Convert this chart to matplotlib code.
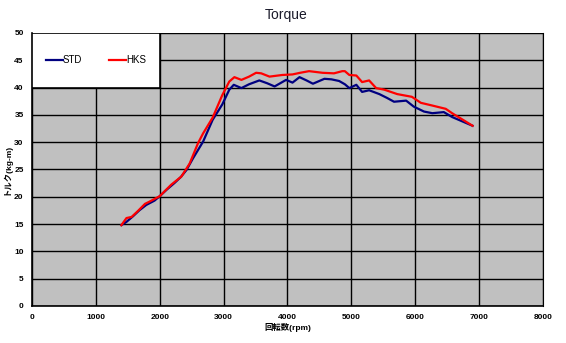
import matplotlib
matplotlib.use("Agg")
import matplotlib.pyplot as plt
from matplotlib.patches import Rectangle

plt.rcParams['font.family'] = ['Liberation Sans', 'Noto Sans CJK JP', 'DejaVu Sans']

# STD curve (rpm, kg-m)
std_rpm = [1400, 1480, 1580, 1680, 1790, 1920, 2000, 2110, 2230, 2330, 2420, 2520, 2680,
           2830, 2980, 3090, 3160, 3280, 3400, 3560, 3680, 3800, 3980, 4080, 4190, 4300,
           4400, 4580, 4690, 4810, 4900, 4970, 5080, 5170, 5280, 5440, 5560, 5670, 5860,
           5980, 6140, 6270, 6450, 6580, 6700, 6900]
std_trq = [14.8, 15.4, 16.4, 17.5, 18.5, 19.3, 20.1, 21.3, 22.5, 23.6, 24.9, 27.0, 30.1,
           34.1, 36.9, 39.6, 40.5, 39.9, 40.6, 41.3, 40.8, 40.2, 41.4, 40.9, 41.9, 41.3,
           40.7, 41.6, 41.5, 41.2, 40.6, 39.9, 40.5, 39.2, 39.5, 38.8, 38.1, 37.4, 37.6,
           36.5, 35.6, 35.3, 35.5, 34.6, 34.0, 33.0]

# HKS curve (rpm, kg-m)
hks_rpm = [1400, 1480, 1560, 1660, 1770, 1840, 2000, 2180, 2340, 2470, 2600, 2680, 2830,
           2980, 3090, 3170, 3280, 3400, 3510, 3590, 3720, 3920, 4080, 4200, 4340,
           4550, 4730, 4860, 4900, 4970, 5080, 5170, 5280, 5390, 5520, 5720, 5950, 6090,
           6270, 6480, 6580, 6720, 6900]
hks_trq = [14.8, 16.1, 16.3, 17.4, 18.7, 19.1, 20.1, 22.2, 23.7, 26.1, 29.8, 31.6, 34.5,
           38.6, 41.1, 41.9, 41.4, 42.0, 42.7, 42.6, 42.0, 42.3, 42.4, 42.7, 43.0,
           42.7, 42.6, 43.0, 43.0, 42.3, 42.2, 41.0, 41.3, 39.9, 39.6, 38.8, 38.3, 37.2,
           36.7, 36.1, 35.3, 34.3, 33.0]

fig = plt.figure(figsize=(5.66, 3.43), dpi=100)
ax = fig.add_axes([0.0565, 0.108, 0.9025, 0.796])
ax.set_facecolor('#c0c0c0')

ax.plot(std_rpm, std_trq, color='#000080', lw=1.6, label='STD', zorder=4)
ax.plot(hks_rpm, hks_trq, color='#ff0000', lw=1.6, label='HKS', zorder=5)

ax.set_xlim(0, 8000)
ax.set_ylim(0, 50)
ax.set_xticks(range(0, 8001, 1000))
ax.set_yticks(range(0, 51, 5))
ax.grid(True, color='black', lw=1.0)
ax.set_axisbelow(True)
ax.tick_params(length=0, labelsize=6, pad=6)
for lab in ax.get_xticklabels() + ax.get_yticklabels():
    lab.set_fontweight('bold')
for s in ax.spines.values():
    s.set_color('black')
    s.set_linewidth(1.2)
ax.spines['top'].set_visible(False)
ax.spines['right'].set_linewidth(0.8)

ax.set_xlabel('回転数(rpm)', fontsize=6, fontweight='bold', labelpad=1)
ax.set_ylabel('トルク(kg-m)', fontsize=6, fontweight='bold', labelpad=2)
fig.text(0.505, 0.955, 'Torque', ha='center', va='center', fontsize=10, color='#1a1a2a')

# legend box in upper left
ax.add_patch(Rectangle((0, 0.8), 0.25, 0.2, transform=ax.transAxes,
                       facecolor='white', edgecolor='black', lw=1.2, zorder=6))
leg = ax.legend(loc='center', bbox_to_anchor=(0, 0.8, 0.25, 0.2), ncol=2,
                frameon=False, fontsize=7, handlelength=1.75, handletextpad=0.05,
                columnspacing=2.7)
leg.set_zorder(7)

fig.savefig('out.png', dpi=100)
